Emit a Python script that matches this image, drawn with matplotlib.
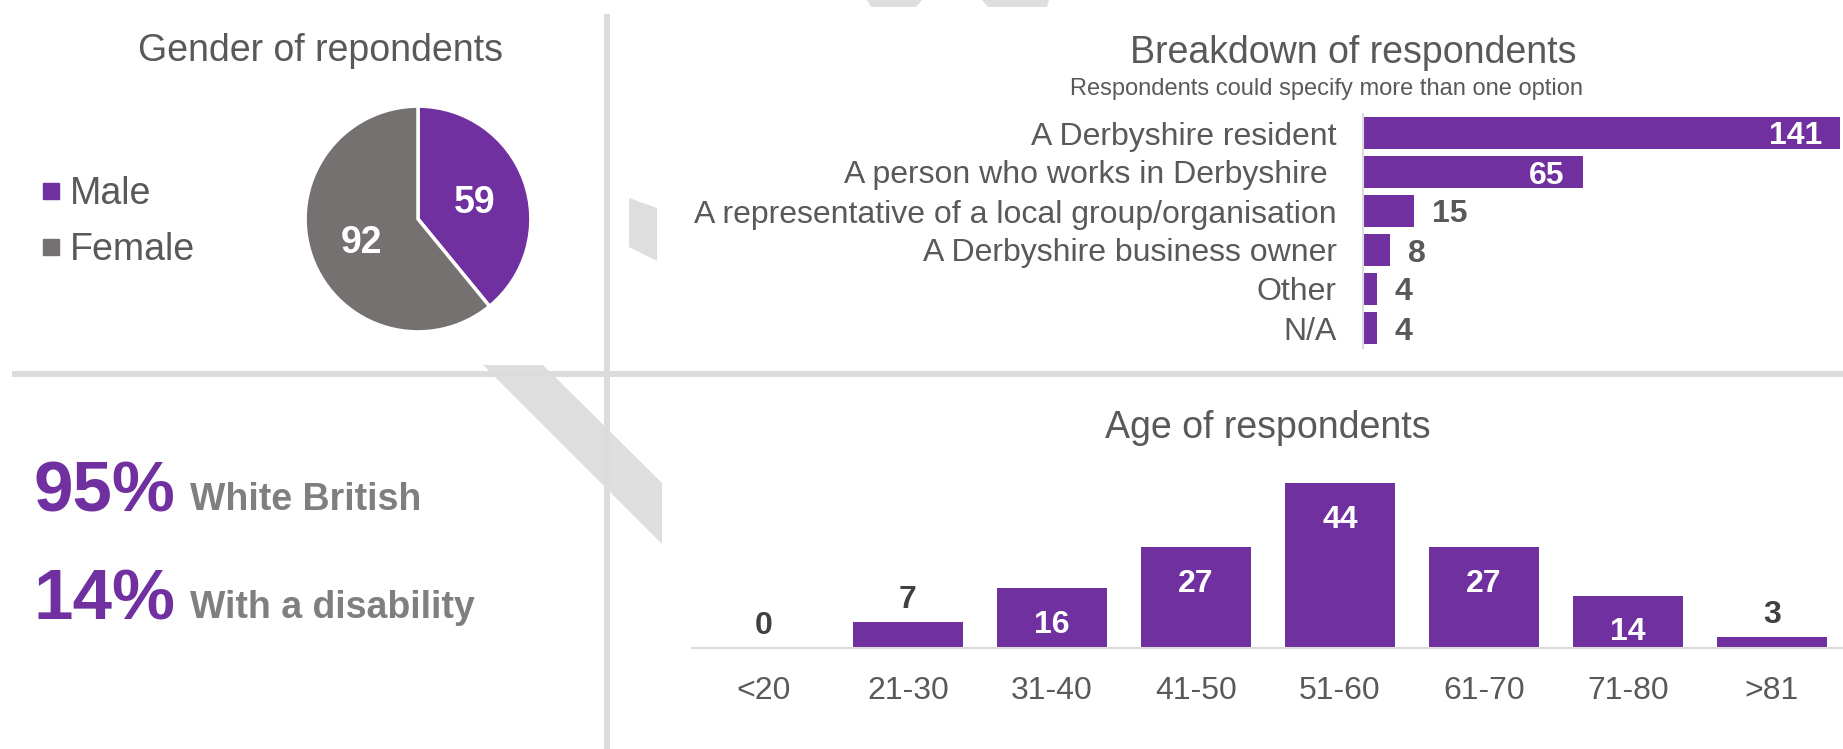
import matplotlib
matplotlib.use('Agg')
import matplotlib.pyplot as plt
from matplotlib.patches import Polygon
from matplotlib.lines import Line2D

plt.rcParams['font.family'] = ['Liberation Sans', 'DejaVu Sans']

# data
genders = ['Male', 'Female']
gender_counts = [59, 92]

roles = ['A Derbyshire resident', 'A person who works in Derbyshire ',
         'A representative of a local group/organisation',
         'A Derbyshire business owner', 'Other', 'N/A']
role_counts = [141, 65, 15, 8, 4, 4]

age_groups = ['<20', '21-30', '31-40', '41-50', '51-60', '61-70', '71-80', '>81']
age_counts = [0, 7, 16, 27, 44, 27, 14, 3]

stats = [('95%', 'White British'), ('14%', 'With a disability')]

PURPLE = '#7030A0'
GREY = '#767171'
TXT = '#595959'
LINE = '#DCDCDC'

W, H = 1843, 749
fig = plt.figure(figsize=(W / 100, H / 100), dpi=100)


def px_axes(left, top, right, bottom, **kw):
    return fig.add_axes([left / W, 1 - bottom / H, (right - left) / W, (bottom - top) / H], **kw)


# background: divider lines and grey decoration shapes
bg = px_axes(0, 0, W, H, zorder=-1)
bg.set_xlim(0, W)
bg.set_ylim(H, 0)
bg.axis('off')
for pts in [[(483, 365), (543, 365), (662, 483), (662, 544)],
            [(629, 198), (657, 208), (657, 261), (629, 247)],
            [(867, 0), (922, 0), (916, 7), (871, 7)],
            [(982, 0), (1049, 0), (1047, 7), (988, 7)]]:
    bg.add_patch(Polygon(pts, closed=True, color='#DEDEDE', lw=0))
bg.plot([607, 607], [14, H], color=LINE, lw=4.3, solid_capstyle='butt')
bg.plot([12, W], [374, 374], color=LINE, lw=4.3, solid_capstyle='butt')

# gender pie
ax_pie = px_axes(304, 105, 532, 333)
total = sum(gender_counts)
pie_colors = [PURPLE, GREY]
wedges, _, autotexts = ax_pie.pie(
    gender_counts, colors=pie_colors, startangle=90, counterclock=False,
    wedgeprops=dict(edgecolor='white', linewidth=2.5),
    autopct=lambda p: f'{round(p * total / 100)}', pctdistance=0.53,
    textprops=dict(color='white', fontsize=27, fontweight='bold'))
for t in autotexts:
    t.set_va('center_baseline')
ax_pie.set_xlim(-1.01, 1.01)
ax_pie.set_ylim(-1.01, 1.01)
fig.text(321 / W, 1 - 51 / H, 'Gender of repondents', ha='center', va='center',
         fontsize=27, color=TXT)
handles = [Line2D([], [], marker='s', ls='none', ms=11.5, mfc=c, mec=c) for c in pie_colors]
fig.legend(handles, genders, loc='center left', bbox_to_anchor=(43 / W, 1 - 222 / H),
           frameon=False, fontsize=27, labelcolor=TXT, handlelength=0.45,
           handletextpad=0.26, labelspacing=0.52, borderpad=0, borderaxespad=0)

# breakdown bars
ax_bar = px_axes(1363, 113.5, 1842, 347.5)
bars = ax_bar.barh(range(len(roles)), role_counts, height=0.82, color=PURPLE)
ax_bar.set_xlim(0, 141.6)
ax_bar.set_ylim(len(roles) - 0.5, -0.5)
ax_bar.set_yticks(range(len(roles)), roles)
ax_bar.tick_params(axis='y', length=0, pad=19, labelsize=23, labelcolor=TXT)
ax_bar.set_xticks([])
for s in ['top', 'right', 'bottom']:
    ax_bar.spines[s].set_visible(False)
ax_bar.spines['left'].set_color(LINE)
ax_bar.spines['left'].set_linewidth(1.5)
for i, v in enumerate(role_counts):
    if v > 30:
        ax_bar.annotate(str(v), (v, i), xytext=(-13, 0), textcoords='offset points',
                        ha='right', va='center_baseline', color='white', fontsize=23,
                        fontweight='bold')
    else:
        ax_bar.annotate(str(v), (v, i), xytext=(13, 0), textcoords='offset points',
                        ha='left', va='center_baseline', color=TXT, fontsize=23,
                        fontweight='bold')
fig.text(1353 / W, 1 - 53 / H, 'Breakdown of respondents', ha='center', va='center',
         fontsize=27, color=TXT)
fig.text(1326 / W, 1 - 89 / H, 'Respondents could specify more than one option',
         ha='center', va='center', fontsize=17, color=TXT)

# stats
for (pct, label), base in zip(stats, [512, 620]):
    fig.text(33 / W, 1 - base / H, pct, ha='left', va='baseline', fontsize=51,
             fontweight='bold', color=PURPLE)
    fig.text(190 / W, 1 - (base - 2) / H, label, ha='left', va='baseline', fontsize=27,
             fontweight='bold', color='#7F7F7F')

# age bars
ax_age = px_axes(692, 460.5, 1844, 648)
ax_age.bar(range(len(age_groups)), age_counts, width=0.77, color=PURPLE)
ax_age.set_xlim(-0.5, len(age_groups) - 0.5)
ax_age.set_ylim(0, 50)
ax_age.set_xticks(range(len(age_groups)), age_groups)
ax_age.tick_params(axis='x', length=0, pad=20, labelsize=23, labelcolor=TXT)
ax_age.set_yticks([])
for s in ['top', 'right', 'left']:
    ax_age.spines[s].set_visible(False)
ax_age.spines['bottom'].set_color(LINE)
ax_age.spines['bottom'].set_linewidth(1.5)
for i, v in enumerate(age_counts):
    if v >= 10:
        ax_age.annotate(str(v), (i, v), xytext=(0, -24), textcoords='offset points',
                        ha='center', va='center_baseline', color='white', fontsize=23,
                        fontweight='bold')
    else:
        ax_age.annotate(str(v), (i, v), xytext=(0, 18), textcoords='offset points',
                        ha='center', va='center_baseline', color='#404040', fontsize=23,
                        fontweight='bold')
fig.text(1268 / W, 1 - 428 / H, 'Age of respondents', ha='center', va='center',
         fontsize=27, color=TXT)

fig.savefig('out.png', dpi=100)
